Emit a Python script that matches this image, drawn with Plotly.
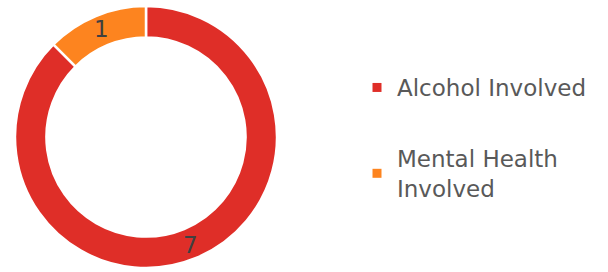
import math
import plotly.graph_objects as go

labels = ["Alcohol Involved", "Mental Health Involved"]
legend_text = ["Alcohol Involved", "Mental Health<br>Involved"]
values = [7, 1]
colors = ["#DF2E28", "#FD841F"]

W, H = 608, 272
HOLE = 0.76
dom_x = [15 / W, 277 / W]
dom_y = [1 - 268 / H, 1 - 6 / H]

fig = go.Figure()
fig.add_trace(go.Pie(
    labels=labels, values=values, sort=False, direction="clockwise", rotation=0,
    hole=HOLE, marker=dict(colors=colors, line=dict(color="white", width=2.5)),
    textinfo="none", hoverinfo="label+value",
    showlegend=False, domain=dict(x=dom_x, y=dom_y),
))

# value labels placed at the middle of each ring slice (derived from the data)
cx = (dom_x[0] + dom_x[1]) / 2 * W
cy = (1 - (dom_y[0] + dom_y[1]) / 2) * H
R = min((dom_x[1] - dom_x[0]) * W, (dom_y[1] - dom_y[0]) * H) / 2
rmid = R * (1 + 0.78) / 2
total = sum(values)
acc = 0
for v in values:
    mid = (acc + v / 2) / total * 2 * math.pi
    acc += v
    px = cx + rmid * math.sin(mid)
    py = cy - rmid * math.cos(mid)
    fig.add_annotation(x=px / W, y=1 - py / H, xref="paper", yref="paper",
                       text=str(v), showarrow=False, xanchor="center", yanchor="middle",
                       font=dict(color="#404040", size=23, family="DejaVu Sans"))

for i, (t, c) in enumerate(zip(legend_text, colors)):
    fig.add_trace(go.Scatter(
        x=[None], y=[None], mode="markers", name=t, legendgroup=str(i),
        marker=dict(symbol="square", size=9, color=c),
    ))
fig.update_xaxes(visible=False)
fig.update_yaxes(visible=False)
fig.update_layout(
    width=W, height=H, margin=dict(l=0, r=0, t=0, b=0),
    paper_bgcolor="white", plot_bgcolor="white",
    legend=dict(x=357 / W, y=1 - 66 / H, xanchor="left", yanchor="top",
                font=dict(family="DejaVu Sans", size=23, color="#595959"),
                tracegroupgap=38, itemwidth=30, bgcolor="rgba(0,0,0,0)"),
)
fig.write_html("out.html", config={"displayModeBar": False},
               post_script="document.body.style.margin='0';")
